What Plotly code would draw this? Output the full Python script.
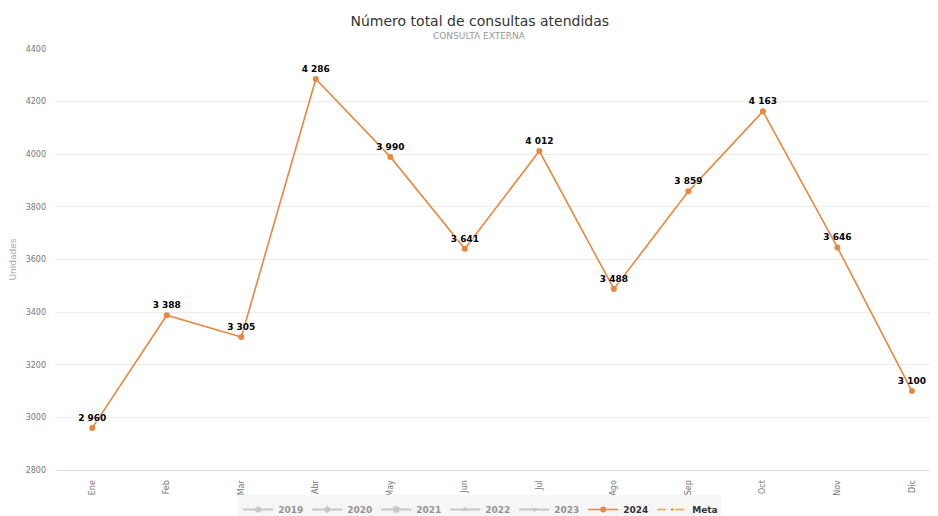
import plotly.graph_objects as go

# Data
months = ['Ene', 'Feb', 'Mar', 'Abr', 'May', 'Jun', 'Jul', 'Ago', 'Sep', 'Oct', 'Nov', 'Dic']
consultas_2024 = [2960, 3388, 3305, 4286, 3990, 3641, 4012, 3488, 3859, 4163, 3646, 3100]
meta = [None] * 12
hidden_years = ['2019', '2020', '2021', '2022', '2023']
hidden_symbols = ['circle', 'diamond', 'square', 'triangle-up', 'triangle-down']
y_ticks = [2800, 3000, 3200, 3400, 3600, 3800, 4000, 4200, 4400]

FONT = "DejaVu Sans, Verdana, sans-serif"
ORANGE = "#e8883e"


def format_number(n):
    """Thousands separated by a space."""
    return f"{int(n):,}".replace(",", " ")


x_idx = list(range(len(months)))

fig = go.Figure()

for year, sym in zip(hidden_years, hidden_symbols):
    fig.add_trace(go.Scatter(
        x=x_idx, y=[None] * 12, name=year, mode='lines+markers',
        marker=dict(symbol=sym, size=6), line=dict(color='#999', width=2),
        visible='legendonly'
    ))

fig.add_trace(go.Scatter(
    x=x_idx,
    y=consultas_2024,
    name='2024',
    mode='lines+markers+text',
    line=dict(color=ORANGE, width=1.6),
    marker=dict(color=ORANGE, size=6),
    text=[format_number(v) for v in consultas_2024],
    textposition='top center',
    textfont=dict(family=FONT, size=9, color='#000', weight='bold',
                  shadow='1px 1px 1px white'),
    cliponaxis=False,
))

fig.add_trace(go.Scatter(
    x=x_idx, y=meta, name='Meta', mode='lines+markers',
    line=dict(color='#f5a623', width=1.5, dash='dash'),
    marker=dict(color='#f5a623', size=3),
))

fig.update_layout(
    width=938, height=516,
    paper_bgcolor='white', plot_bgcolor='white',
    margin=dict(l=47, r=8, t=41, b=54, autoexpand=False),
    font=dict(family=FONT, size=9, color='#666'),
    title=dict(
        text="Número total de consultas atendidas",
        x=0.503, xanchor='center', y=0.985, yanchor='top',
        font=dict(family=FONT, size=14, color='#333'),
    ),
    showlegend=True,
    legend=dict(
        orientation='h', x=0.481, xanchor='center',
        yref='container', y=-0.002, yanchor='bottom',
        bgcolor='#f6f6f6', font=dict(family=FONT, size=9, color='#333', weight='bold'),
        itemwidth=30, entrywidth=24, entrywidthmode='pixels', tracegroupgap=0,
    ),
)

# subtitle
fig.add_annotation(
    text="CONSULTA EXTERNA", xref='paper', yref='paper',
    x=0.481, y=1.031, xanchor='center', yanchor='middle', showarrow=False,
    font=dict(family=FONT, size=9, color='#999'),
)

fig.update_xaxes(
    tickmode='array', tickvals=x_idx, ticktext=months,
    range=[-0.5, 11.35], tickangle=-90, automargin=False,
    showgrid=False, zeroline=False,
    showline=True, linecolor='#dfe3ee', linewidth=1,
    tickfont=dict(size=8, color='#777'), ticks='', ticklabelstandoff=6,
)
fig.update_yaxes(
    range=[2800, 4400], tickvals=y_ticks, automargin=False,
    showgrid=True, gridcolor='#ececec', gridwidth=1, zeroline=False,
    tickfont=dict(size=8, color='#777'), ticklabelstandoff=8,
    title=dict(text='Unidades', font=dict(size=9, color='#aaa'), standoff=10),
)

fig.write_html("out.html")
